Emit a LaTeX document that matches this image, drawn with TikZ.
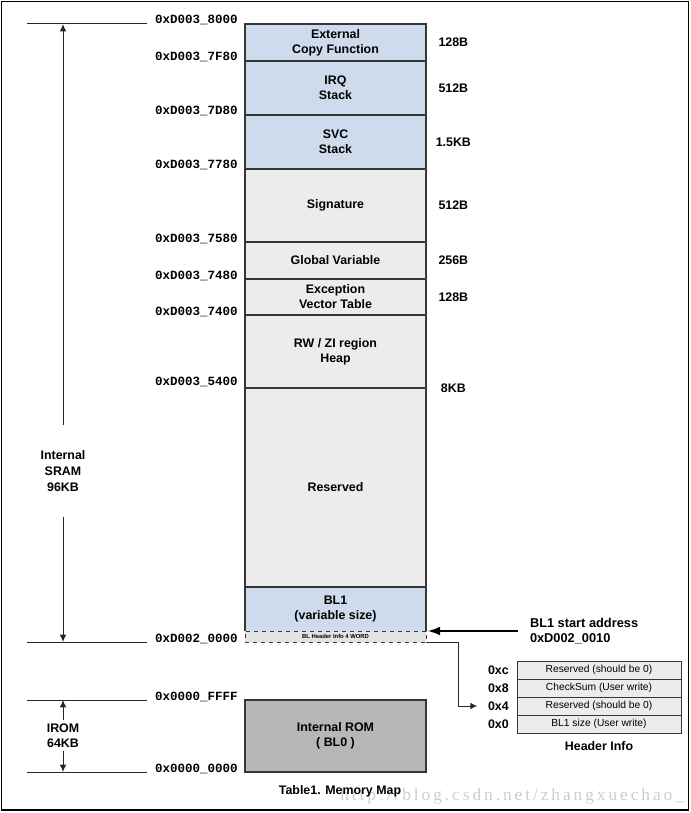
\documentclass[tikz,border=0pt]{standalone}
\usepackage{fontspec}
\setmainfont{Liberation Sans}
\newfontfamily\addrfont{Liberation Mono}
\newfontfamily\wmfont[LetterSpace=17]{Liberation Serif}
\usetikzlibrary{arrows.meta}
\definecolor{boxline}{RGB}{55,55,55}
\definecolor{blueF}{RGB}{206,219,236}
\definecolor{grayF}{RGB}{236,236,236}
\definecolor{hdrF}{RGB}{228,228,228}
\definecolor{romF}{RGB}{183,183,183}
\definecolor{wmgray}{RGB}{205,205,205}
\newcommand\labfont{\fontsize{9.3}{11.25}\selectfont\bfseries}
\newcommand\tblfont{\fontsize{7.7}{9}\selectfont}
\newcommand\tinyfont{\fontsize{4.4}{5}\selectfont\bfseries}
\begin{document}
\begin{tikzpicture}[x=0.75pt,y=-0.75pt,
  region/.style={draw=boxline, line width=0.8pt, outer sep=0pt, inner sep=0pt,
    minimum width=135.75pt, anchor=north west, align=center, font=\labfont},
  ht/.style={minimum height=#1*0.75pt},
  boxl/.style={draw=boxline, line width=0.8pt},
  addr/.style={font=\addrfont\bfseries\fontsize{9.4}{11}\selectfont, anchor=base east, inner sep=0pt},
  sizelab/.style={font=\labfont, inner sep=0pt},
  guide/.style={draw=black!85, line width=0.75pt},
  arr/.style={draw=black!85, line width=0.75pt, -{Latex[length=5.5pt,width=5pt]}},
  bigarr/.style={draw=black, line width=1pt, -{Latex[length=9pt,width=6.5pt]}},
  hrow/.style={draw=boxline, line width=0.7pt, fill=grayF, outer sep=0pt, inner sep=0pt,
    minimum width=123pt, minimum height=13.5pt, anchor=north west, font=\tblfont},
  hlab/.style={font=\labfont, inner sep=0pt, anchor=east}]
\useasboundingbox (0,0) rectangle (691,813);
\draw[line width=1.1pt] (1.5,1.5) rectangle (688.5,810);

% memory regions
\node[region, ht=37, fill=blueF] (ext) at (245,24) {External\\Copy Function};
\node[region, ht=54, fill=blueF] (irq) at (ext.south west) {IRQ\\Stack};
\node[region, ht=54, fill=blueF] (svc) at (irq.south west) {SVC\\Stack};
\node[region, ht=73, fill=grayF] (sig) at (svc.south west) {Signature};
\node[region, ht=37, fill=grayF] (gv) at (sig.south west) {Global Variable};
\node[region, ht=36, fill=grayF] (exc) at (gv.south west) {Exception\\Vector Table};
\node[region, ht=73, fill=grayF] (rw) at (exc.south west) {RW / ZI region\\Heap};
\node[region, ht=199, fill=grayF] (res) at (rw.south west) {Reserved};
\node[region, ht=44, fill=blueF, draw=none] (bl1) at (res.south west) {BL1\\(variable size)};
\draw[boxl] (bl1.south west) -- (bl1.north west) -- (bl1.north east) -- (bl1.south east);
\node[region, ht=11, fill=hdrF, dashed, line width=0.6pt, font=\tinyfont] (hdr) at (bl1.south west) {BL Header Info 4 WORD};
\node[region, ht=72, fill=romF] (rom) at (245,700) {Internal ROM\\( BL0 )};

% addresses
\node[addr] (a8000) at ([xshift=-5.25pt]ext.north west) {0xD003\_8000};
\node[addr] (a7F80) at ([xshift=-5.25pt]ext.south west) {0xD003\_7F80};
\node[addr] (a7D80) at ([xshift=-5.25pt]irq.south west) {0xD003\_7D80};
\node[addr] (a7780) at ([xshift=-5.25pt]svc.south west) {0xD003\_7780};
\node[addr] (a7580) at ([xshift=-5.25pt]sig.south west) {0xD003\_7580};
\node[addr] (a7480) at ([xshift=-5.25pt]gv.south west) {0xD003\_7480};
\node[addr] (a7400) at ([xshift=-5.25pt]exc.south west) {0xD003\_7400};
\node[addr] (a5400) at ([xshift=-5.25pt,yshift=2pt]rw.south west) {0xD003\_5400};
\node[addr] (a0000) at ([xshift=-5.25pt]hdr.south west) {0xD002\_0000};
\node[addr] (aFFFF) at ([xshift=-5.25pt]rom.north west) {0x0000\_FFFF};
\node[addr] (aZero) at ([xshift=-5.25pt]rom.south west) {0x0000\_0000};

% sizes
\node[sizelab] (sExt) at ([xshift=20.5pt]ext.east) {128B};
\node[sizelab] (sIrq) at ([xshift=20.5pt]irq.east) {512B};
\node[sizelab] (sSvc) at ([xshift=20.5pt]svc.east) {1.5KB};
\node[sizelab] (sSig) at ([xshift=20.5pt]sig.east) {512B};
\node[sizelab] (sGv) at ([xshift=20.5pt]gv.east) {256B};
\node[sizelab] (sExc) at ([xshift=20.5pt]exc.east) {128B};
\node[sizelab] (sRw) at ([xshift=20.5pt]rw.south east) {8KB};

% left guide lines
\coordinate (gTopL) at (27,24);   \coordinate (gTopR) at (147,24);
\coordinate (gD2L) at (27,642);   \coordinate (gD2R) at (147,642);
\coordinate (gFL) at (27,700);    \coordinate (gFR) at (147,700);
\coordinate (gZL) at (27,772);    \coordinate (gZR) at (147,772);
\draw[guide] (gTopL) -- (gTopR);
\draw[guide] (gD2L) -- (gD2R);
\draw[guide] (gFL) -- (gFR);
\draw[guide] (gZL) -- (gZR);

\node[font=\fontsize{9.3}{12}\selectfont\bfseries, align=center, inner sep=0pt, outer ysep=19pt] (sram) at (63,471) {Internal\\SRAM\\96KB};
\draw[arr] (sram.north) -- (sram.north |- gTopL);
\draw[arr] (sram.south) -- (sram.south |- gD2L);
\node[font=\labfont, align=center, inner sep=0pt, outer ysep=3pt] (irom) at (63,735.5) {IROM\\64KB};
\draw[arr] (irom.north) -- (irom.north |- gFL);
\draw[arr] (irom.south) -- (irom.south |- gZL);

% BL1 start address
\node[font=\fontsize{9.6}{11.5}\selectfont\bfseries, align=left, anchor=west, inner sep=0pt, outer xsep=9pt] (bl1a) at (518,631) {BL1 start address\\0xD002\_0010};
\draw[bigarr] (bl1a.west) -- ([xshift=1.5pt]bl1.south east);

% header table
\node[hrow] (r3) at (517,661) {Reserved (should be 0)};
\node[hrow] (r2) at (r3.south west) {CheckSum (User write)};
\node[hrow] (r1) at (r2.south west) {Reserved (should be 0)};
\node[hrow] (r0) at (r1.south west) {BL1 size (User write)};
\node[hlab] (l3) at ([xshift=-6pt]r3.west) {0xc};
\node[hlab] (l2) at ([xshift=-6pt]r2.west) {0x8};
\node[hlab] (l1) at ([xshift=-6pt]r1.west) {0x4};
\node[hlab] (l0) at ([xshift=-6pt]r0.west) {0x0};
\node[font=\labfont, inner sep=0pt] (hinfo) at ([yshift=-10pt]r0.south) {Header Info};
\draw[arr, -{Latex[length=5pt,width=5pt]}] (hdr.south east) -- ++(24pt,0) |- ([xshift=-8pt]l1.west);

% watermark and caption
\node[font=\wmfont\fontsize{13}{13}\selectfont, text=wmgray, anchor=base west, inner sep=0pt] (wm) at (340,800) {http://blog.csdn.net/zhangxuechao\_};
\node[font=\labfont, inner sep=0pt] (cap) at (340,791) {Table1. Memory Map};
\end{tikzpicture}
\end{document}
